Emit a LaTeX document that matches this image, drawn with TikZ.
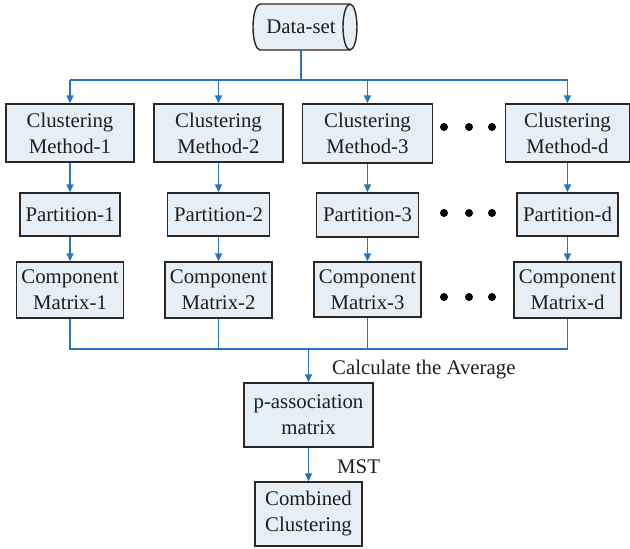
\documentclass[tikz,border=0pt]{standalone}
\usepackage{fontspec}
\setmainfont{Liberation Serif}
\usetikzlibrary{arrows.meta}
\definecolor{boxfill}{RGB}{230,238,246}
\definecolor{lineblue}{RGB}{36,118,192}
\definecolor{edgecol}{RGB}{40,40,40}
\definecolor{txtcol}{RGB}{30,30,30}
\begin{document}
\begin{tikzpicture}[x=1pt,y=-1pt,
  every node/.style={font=\fontsize{20.8}{26}\selectfont, text=txtcol},
  procbox/.style={draw=edgecol, line width=1.4pt, fill=boxfill, inner sep=0pt, align=center},
  link/.style={draw=lineblue, line width=1.4pt},
  arr/.style={link, -{Triangle[length=8pt,width=7pt]}},
  dotmark/.style={fill=black}
]
\useasboundingbox (0,0) rectangle (630,549);
% Data-set cylinder
\draw[draw=edgecol, line width=1.4pt, fill=boxfill]
  (260,4) -- (350,4) arc[start angle=90, end angle=-90, x radius=7pt, y radius=23pt]
  -- (260,50) arc[start angle=270, end angle=90, x radius=7pt, y radius=23pt] -- cycle;
\draw[draw=edgecol, line width=1.4pt] (350,4) arc[start angle=90, end angle=270, x radius=7pt, y radius=23pt];
\node[inner sep=0pt, minimum width=96pt, minimum height=46pt] (data) at (301,27) {Data-set};

% methods
\node[procbox, minimum width=128pt, minimum height=58pt] (m1) at (70,133) {Clustering\\Method-1};
\node[procbox, minimum width=129pt, minimum height=58pt] (m2) at (218.5,133) {Clustering\\Method-2};
\node[procbox, minimum width=130pt, minimum height=59pt] (m3) at (367.5,133.5) {Clustering\\Method-3};
\node[procbox, minimum width=124pt, minimum height=58pt] (md) at (567.5,133) {Clustering\\Method-d};

% partitions
\node[procbox, minimum width=100pt, minimum height=43pt] (p1) at (70,214.5) {Partition-1};
\node[procbox, minimum width=102pt, minimum height=43pt] (p2) at (218.5,214.5) {Partition-2};
\node[procbox, minimum width=102pt, minimum height=44pt] (p3) at (367.5,215) {Partition-3};
\node[procbox, minimum width=101pt, minimum height=43pt] (pd) at (567.5,214.5) {Partition-d};

% component matrices
\node[procbox, minimum width=107pt, minimum height=56pt] (c1) at (70,290) {Component\\Matrix-1};
\node[procbox, minimum width=107pt, minimum height=56pt] (c2) at (218.5,290) {Component\\Matrix-2};
\node[procbox, minimum width=107pt, minimum height=55pt] (c3) at (367.5,289.5) {Component\\Matrix-3};
\node[procbox, minimum width=107pt, minimum height=56pt] (cd) at (567.5,290) {Component\\Matrix-d};

% bottom
\node[procbox, minimum width=129pt, minimum height=64pt] (pa) at (308.5,415) {p-association\\matrix};
\node[procbox, minimum width=107pt, minimum height=64pt] (cc) at (308.5,514) {Combined\\Clustering};

% dots
\foreach \yy in {127,213,297}{
  \foreach \xx in {444,469,492}{
    \fill[dotmark] (\xx,\yy) circle[radius=4pt];
  }
}

% top connectors
\coordinate (split) at (301,80);
\draw[link] (data.south) -- (split);
\draw[link] (m1.north|-split) -- (md.north|-split);
\foreach \n in {m1,m2,m3,md}{
  \draw[arr] (\n.north|-split) -- (\n.north);
}
% method -> partition -> component
\foreach \a/\b/\c in {m1/p1/c1,m2/p2/c2,m3/p3/c3,md/pd/cd}{
  \draw[arr] (\a.south) -- (\b.north);
  \draw[arr] (\b.south) -- (\c.north);
}
% merge
\coordinate (merge) at (308.5,349);
\draw[link] (c1.south) |- (merge);
\draw[link] (cd.south) |- (merge);
\draw[link] (c2.south) -- (c2.south|-merge);
\draw[link] (c3.south) -- (c3.south|-merge);
\draw[arr] (merge) -- (pa.north);
\draw[arr] (pa.south) -- (cc.north);

% labels
\node[anchor=base west, inner sep=0pt] (avg) at (332,374) {Calculate the Average};
\node[anchor=base west, inner sep=0pt] (mst) at (337,473) {MST};
\end{tikzpicture}
\end{document}
